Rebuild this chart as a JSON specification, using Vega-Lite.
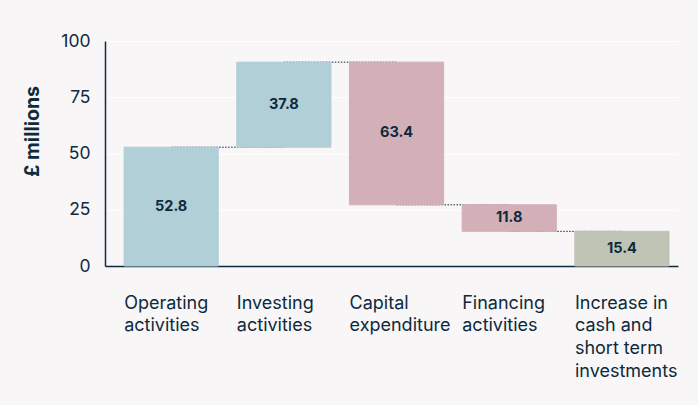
{
  "$schema": "https://vega.github.io/schema/vega-lite/v6.json",
  "width": 573,
  "height": 225,
  "autosize": {"type": "none"},
  "padding": {"left": 105, "top": 41, "right": 20, "bottom": 139},
  "background": "#f8f6f7",
  "config": {
    "view": {"stroke": null},
    "font": "Inter",
    "axis": {"labelColor": "#0e2a3b", "titleColor": "#0e2a3b", "domainColor": "#0e2a3b"}
  },
  "datasets": {
    "bars": [
      {"cat": "Operating|activities", "start": 0, "end": 52.8, "value": 52.8, "kind": "inflow"},
      {"cat": "Investing|activities", "start": 52.8, "end": 90.6, "value": 37.8, "kind": "inflow"},
      {"cat": "Capital|expenditure", "start": 90.6, "end": 27.2, "value": 63.4, "kind": "outflow"},
      {"cat": "Financing|activities", "start": 27.2, "end": 15.4, "value": 11.8, "kind": "outflow"},
      {"cat": "Increase in|cash and|short term|investments", "start": 0, "end": 15.4, "value": 15.4, "kind": "total"}
    ],
    "links": [
      {"from": "Operating|activities", "to": "Investing|activities", "level": 52.8},
      {"from": "Investing|activities", "to": "Capital|expenditure", "level": 90.6},
      {"from": "Capital|expenditure", "to": "Financing|activities", "level": 27.2},
      {"from": "Financing|activities", "to": "Increase in|cash and|short term|investments", "level": 15.4}
    ]
  },
  "layer": [
    {
      "data": {"name": "links"},
      "mark": {"type": "rule", "color": "#0e2a3b", "strokeWidth": 1, "strokeDash": [1.5, 1.5]},
      "encoding": {
        "x": {"field": "from", "type": "nominal", "sort": null},
        "x2": {"field": "to"},
        "y": {"field": "level", "type": "quantitative"}
      }
    },
    {
      "data": {"name": "bars"},
      "mark": {"type": "bar", "strokeWidth": 1},
      "encoding": {
        "x": {
          "field": "cat", "type": "nominal", "sort": null,
          "scale": {"paddingInner": 0.164, "paddingOuter": 0.1244, "align": 0.68},
          "axis": {
            "title": null, "labelAngle": 0, "ticks": false, "domainWidth": 1.5,
            "labelExpr": "split(datum.label, '|')",
            "labelAlign": "left", "labelBaseline": "top", "labelOffset": -47,
            "labelPadding": 28, "labelFontSize": 18, "labelLineHeight": 22.7,
            "labelLimit": 200
          }
        },
        "y": {
          "field": "start", "type": "quantitative",
          "scale": {"domain": [0, 100]},
          "axis": {
            "title": "£ millions", "values": [0, 25, 50, 75, 100], "ticks": false,
            "grid": true, "gridColor": "#ffffff", "gridWidth": 1,
            "labelFontSize": 17.5, "labelPadding": 15, "domainWidth": 1.5,
            "titleFontSize": 19.5, "titleFontWeight": "bold",
            "titleX": -73, "titleY": 90, "titleAngle": -90,
            "titleAlign": "center", "titleBaseline": "middle"
          }
        },
        "y2": {"field": "end"},
        "color": {
          "field": "kind", "type": "nominal", "legend": null,
          "scale": {"domain": ["inflow", "outflow", "total"], "range": ["#b1cfd6", "#d3b0b8", "#bfc4b5"]}
        },
        "stroke": {
          "field": "kind", "type": "nominal", "legend": null,
          "scale": {"domain": ["inflow", "outflow", "total"], "range": ["#b1cfd6", "#d3b0b8", "#bfc4b5"]}
        }
      }
    },
    {
      "data": {"name": "bars"},
      "transform": [{"calculate": "(datum.start + datum.end) / 2", "as": "mid"}],
      "mark": {"type": "text", "fontWeight": "bold", "fontSize": 14.5, "color": "#0e2a3b"},
      "encoding": {
        "x": {"field": "cat", "type": "nominal", "sort": null},
        "y": {"field": "mid", "type": "quantitative"},
        "text": {"field": "value", "type": "quantitative", "format": ".1f"}
      }
    }
  ]
}
